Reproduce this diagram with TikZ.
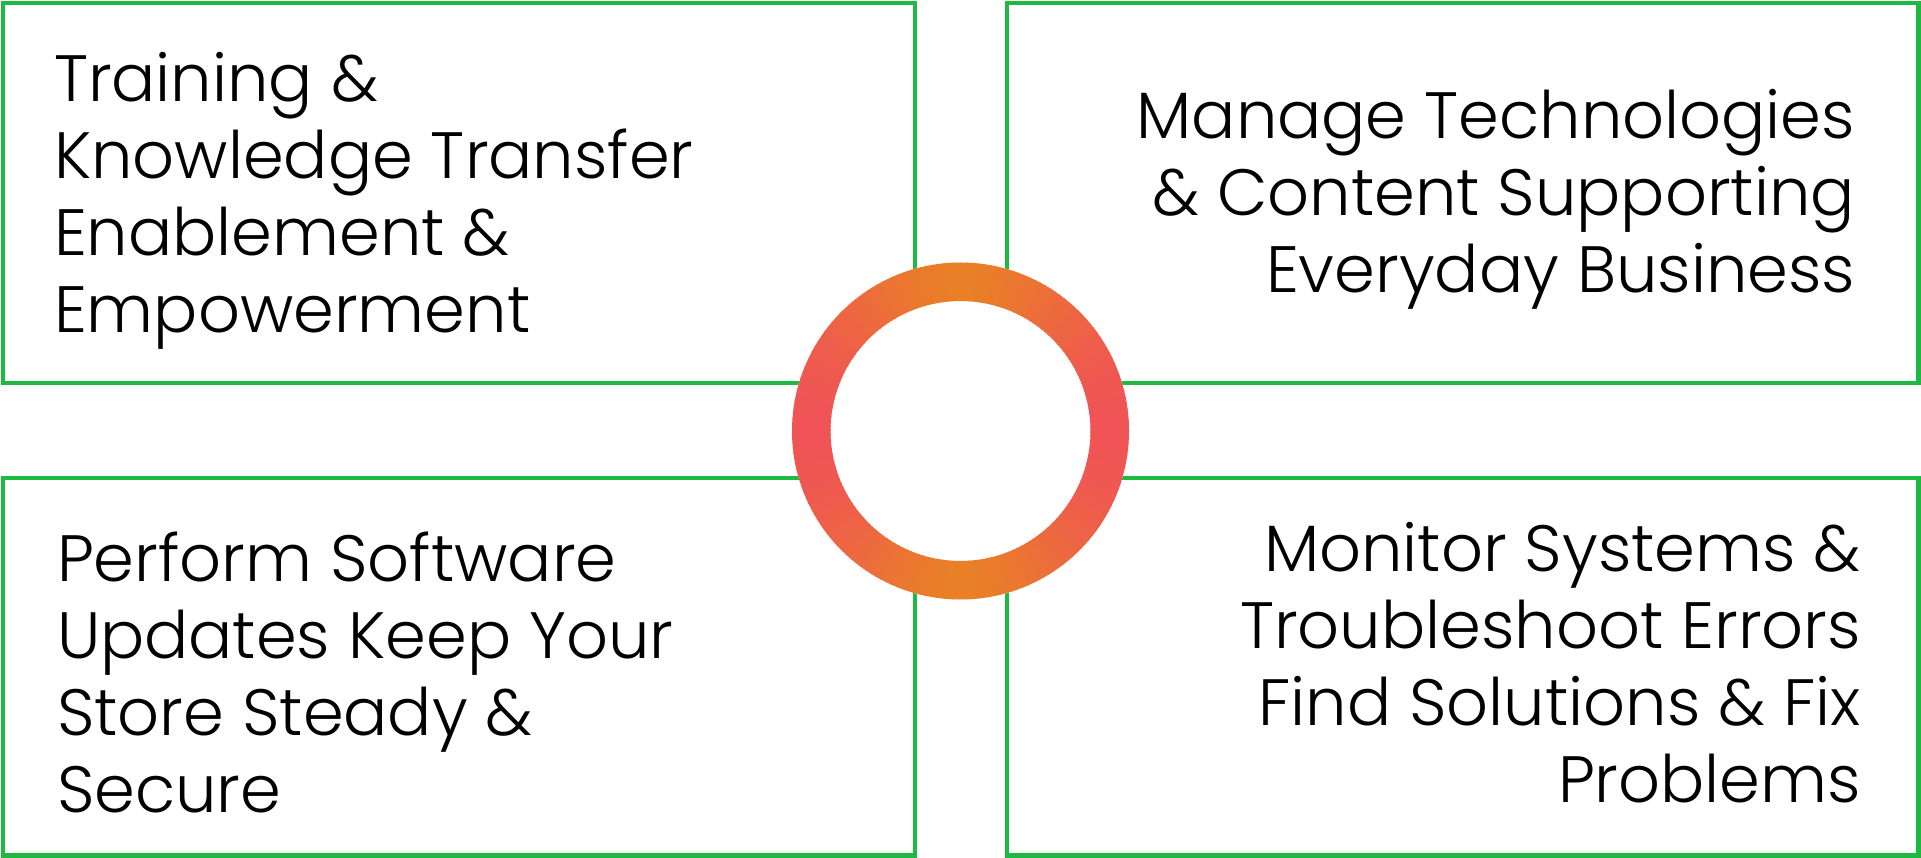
\documentclass[tikz,border=0pt]{standalone}
\usepackage{fontspec}
\setmainfont{Poppins Light}
\definecolor{gboxgreen}{HTML}{1DB940}
\definecolor{ringorange}{HTML}{E98026}
\definecolor{ringred}{HTML}{F05456}
\tikzset{
  gbox/.style={draw=gboxgreen, line width=4.6pt, inner sep=0pt, outer sep=0pt, anchor=north west},
  label/.style={inner sep=0pt, outer sep=0pt, font={\fontsize{65.5pt}{77pt}\selectfont}, text=black}
}
\begin{document}
\begin{tikzpicture}[x=1pt,y=-1pt]
\useasboundingbox (0,0) rectangle (1921,858);
\fill[white] (0,0) rectangle (1921,858);
% boxes
\node[gbox, minimum width=912pt, minimum height=380pt] (tl) at (3,3) {};
\node[gbox, minimum width=911.5pt, minimum height=380pt] (tr) at (1007,3) {};
\node[gbox, minimum width=912pt, minimum height=377.5pt] (bl) at (3,478) {};
\node[gbox, minimum width=911.5pt, minimum height=377.5pt] (br) at (1007,478) {};
% ring
\coordinate (c) at (960.5,431);
\node[circle, fill=white, minimum size=337pt, inner sep=0pt] (disk) at (c) {};
\foreach \a in {0,2,...,358}{
  \pgfmathsetmacro\t{100*abs(cos(\a+1))^1.5}
  \draw[line width=38.5pt, color=ringred!\t!ringorange] ([shift={(\a:149.25)}]c) arc (\a:\a+2.6:149.25);
}
% texts (base anchor = baseline of the last line)
\node[label, align=left, anchor=base west] (t1) at (54,332.7) {Training \&\\Knowledge Transfer\\Enablement \&\\Empowerment};
\node[label, align=right, anchor=base east] (t2) at (1855,293) {Manage Technologies\\\& Content Supporting\\Everyday Business};
\node[label, align=left, anchor=base west] (t3) at (57,812.7) {Perform Software\\Updates Keep Your\\Store Steady \&\\Secure};
\node[label, align=right, anchor=base east] (t4) at (1861,802.7) {Monitor Systems \&\\Troubleshoot Errors\\Find Solutions \& Fix\\Problems};
\end{tikzpicture}
\end{document}
